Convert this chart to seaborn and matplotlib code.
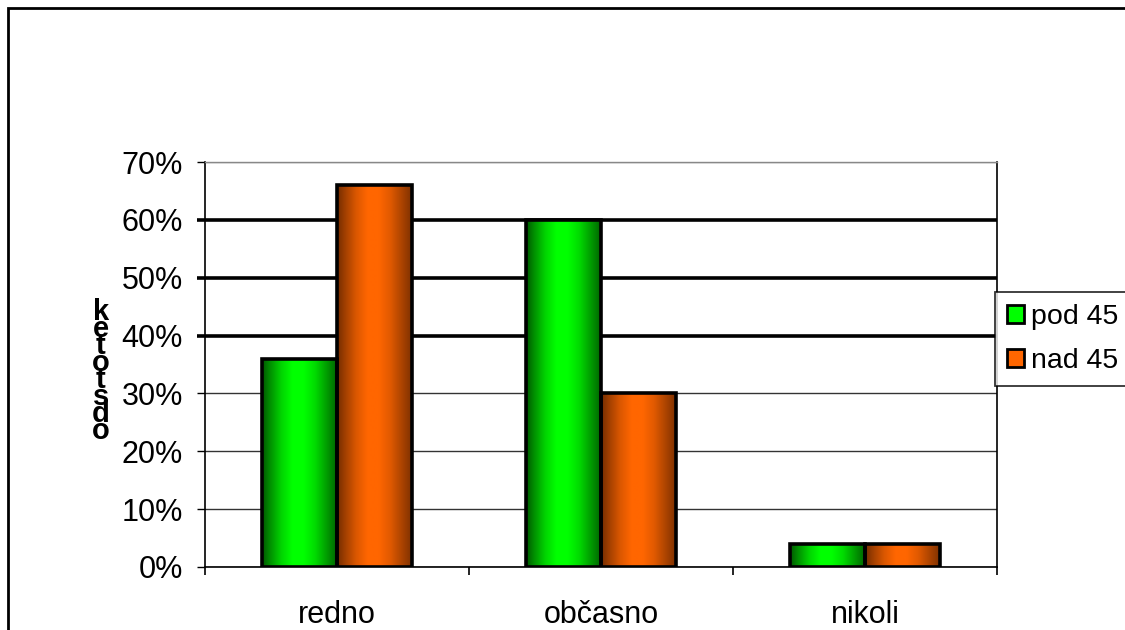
import numpy as np
import pandas as pd
import matplotlib
matplotlib.use("Agg")
import matplotlib.pyplot as plt
from matplotlib.patches import Rectangle
from matplotlib.ticker import FuncFormatter, FixedLocator
import matplotlib.colors as mcolors
import seaborn as sns

categories = ["redno", "občasno", "nikoli"]
groups = ["pod 45", "nad 45"]
pod45 = [0.36, 0.60, 0.04]
nad45 = [0.66, 0.30, 0.04]
ylabel_text = "odstotek"

bright = {"pod 45": "#00ff00", "nad 45": "#ff6600"}
dark = {"pod 45": "#005200", "nad 45": "#6e2a00"}

df = pd.DataFrame({
    "odgovor": categories * 2,
    "skupina": [groups[0]] * 3 + [groups[1]] * 3,
    "delez": pod45 + nad45,
})

sns.set_theme(style="white")
plt.rcParams["font.family"] = ["Liberation Sans", "DejaVu Sans"]
plt.rcParams["text.color"] = "black"
plt.rcParams["xtick.color"] = "black"
plt.rcParams["ytick.color"] = "black"

fig = plt.figure(figsize=(11.25, 6.3), dpi=100)
ax = fig.add_axes([205/1125, 63/630, (997-205)/1125, (567-162)/630])

sns.barplot(data=df, x="odgovor", y="delez", hue="skupina", hue_order=groups,
            order=categories, palette=[bright[g] for g in groups], width=0.57,
            saturation=1, edgecolor="black", linewidth=2.6, ax=ax, legend=True)

# cylinder-like horizontal gradient inside bars
tk = [0.0, 0.1, 0.25, 0.4, 0.55, 0.7, 0.85, 1.0]
wk = [0.05, 0.35, 0.75, 1.0, 1.0, 0.8, 0.45, 0.1]
t = np.linspace(0, 1, 64)
w = np.interp(t, tk, wk)
for cont, g in zip(ax.containers, groups):
    b = np.array(mcolors.to_rgb(bright[g]))
    d = np.array(mcolors.to_rgb(dark[g]))
    img = (d[None, :] * (1 - w[:, None]) + b[None, :] * w[:, None])[None, :, :]
    for p in cont.patches:
        x0, y0 = p.get_x(), p.get_y()
        bw, bh = p.get_width(), p.get_height()
        p.set_facecolor("none")
        p.set_zorder(3)
        im = ax.imshow(img, extent=[x0, x0 + bw, y0, y0 + bh], aspect="auto",
                       zorder=2.5, interpolation="bilinear")
        im.set_clip_path(p)

ax.set_xlim(-0.5, 2.5)
ax.set_ylim(0, 0.7)
ax.set_xlabel("")
ax.set_ylabel("")

# grid
ax.set_axisbelow(True)
ax.yaxis.set_major_locator(FixedLocator(np.arange(0, 0.71, 0.1)))
ax.yaxis.set_major_formatter(FuncFormatter(lambda v, _: f"{v*100:.0f}%"))
ax.yaxis.grid(True, color="#333333", linewidth=1.0)
ax.xaxis.grid(False)
for i, gl in enumerate(ax.get_ygridlines()):
    if i in (4, 5, 6):
        gl.set_linewidth(2.6)
        gl.set_color("black")
    elif i == 7:
        gl.set_color("#888888")

ax.tick_params(axis="y", which="major", left=True, direction="out", length=6,
               width=1, color="black", labelsize=22, pad=10, labelcolor="black")
for i, tkk in enumerate(ax.yaxis.get_major_ticks()):
    if i in (4, 5, 6):
        tkk.tick1line.set_markeredgewidth(2.6)

ax.set_xticks(np.arange(len(categories)))
ax.set_xticklabels(categories)
ax.set_xticks([-0.5, 0.5, 1.5, 2.5], minor=True)
ax.tick_params(axis="x", which="major", length=0, labelsize=22, pad=24, labelcolor="black")
ax.tick_params(axis="x", which="minor", bottom=True, direction="out", length=6,
               width=1.2, color="black")

for s in ["left", "bottom", "right"]:
    ax.spines[s].set_color("black")
    ax.spines[s].set_linewidth(1.2)
ax.spines["top"].set_color("#888888")
ax.spines["top"].set_linewidth(1.0)

# legend
handles, labels = ax.get_legend_handles_labels()
ax.get_legend().remove()
leg = fig.legend(handles, labels, loc="upper left", bbox_to_anchor=(995/1125, 1 - 292/630),
                 fontsize=20.5, frameon=True, fancybox=False, edgecolor="black",
                 handlelength=0.6, handleheight=0.6, handletextpad=0.25,
                 labelspacing=0.65, borderpad=0.42, borderaxespad=0, labelcolor="black")
leg.get_frame().set_linewidth(1.3)
for h in leg.legend_handles:
    h.set_edgecolor("black")
    h.set_linewidth(2.0)

# stacked y-axis label (letters reversed and stacked, as in original)
stacked = "\n".join(list(ylabel_text[::-1]))
fig.text(101/1125, 1 - 298/630, stacked, ha="center", va="top", multialignment="center",
         fontsize=21, fontweight="bold", color="black", linespacing=0.5)

# outer chart frame
fig.patches.append(Rectangle((8/1125, -0.2), 1.3, 1.2 - 8/630, transform=fig.transFigure,
                             fill=False, edgecolor="black", linewidth=2.0))

fig.savefig("out.png", dpi=100, facecolor="white")
